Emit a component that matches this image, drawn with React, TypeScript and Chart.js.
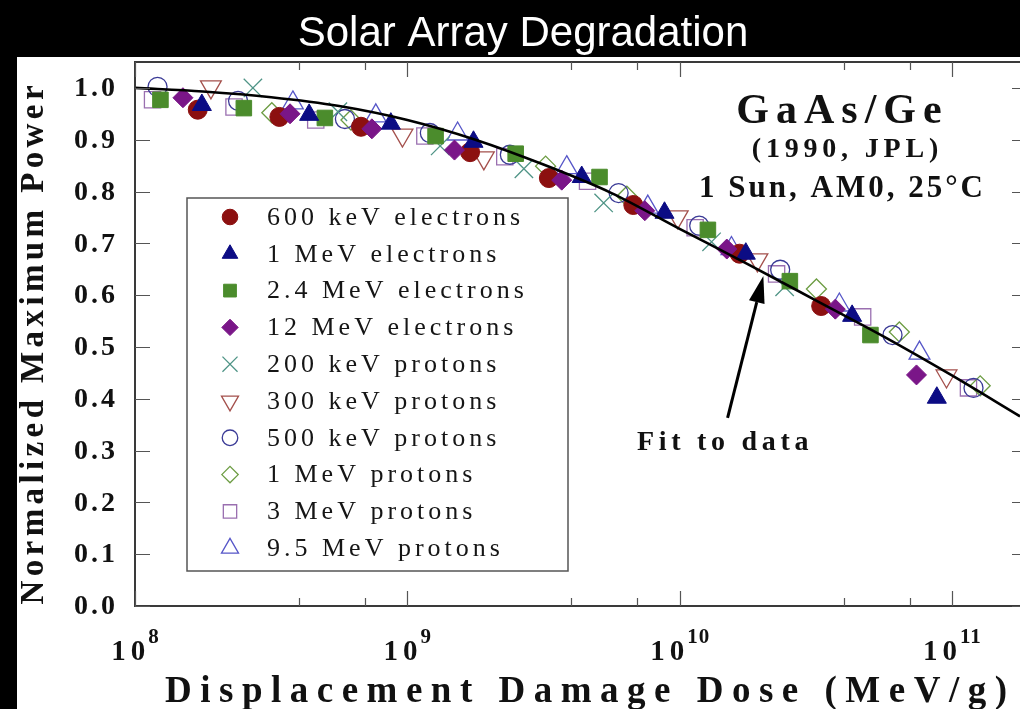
import React, { useEffect, useRef } from 'react';
import { Chart, registerables } from 'chart.js';
import { drawPoint } from 'chart.js/helpers';

Chart.register(...registerables);

// Displacement damage dose (MeV/g) and normalized maximum power, per particle
const e600keVDose = [1.70e8, 3.39e8, 6.76e8, 1.70e9, 3.31e9, 6.76e9, 1.66e10, 3.31e10];
const e600keVPower = [0.958, 0.944, 0.925, 0.876, 0.826, 0.774, 0.680, 0.579];

const e1MeVDose = [1.76e8, 4.36e8, 8.7e8, 1.75e9, 4.37e9, 8.8e9, 1.75e10, 4.3e10, 8.8e10];
const e1MeVPower = [0.967, 0.948, 0.931, 0.896, 0.828, 0.759, 0.680, 0.560, 0.402];

const e2p4MeVDose = [1.24e8, 2.51e8, 4.98e8, 1.27e9, 2.50e9, 5.08e9, 1.27e10, 2.54e10, 5.02e10];
const e2p4MeVPower = [0.977, 0.961, 0.942, 0.907, 0.873, 0.828, 0.726, 0.627, 0.523];

const e12MeVDose = [1.50e8, 3.71e8, 7.41e8, 1.49e9, 3.69e9, 7.45e9, 1.49e10, 3.73e10, 7.41e10];
const e12MeVPower = [0.981, 0.950, 0.921, 0.880, 0.822, 0.763, 0.689, 0.573, 0.446];

const p200keVDose = [2.71e8, 5.56e8, 1.32e9, 2.68e9, 5.26e9, 1.31e10, 2.43e10];
const p200keVPower = [1.000, 0.954, 0.888, 0.844, 0.778, 0.703, 0.616];

const p300keVDose = [1.90e8, 9.6e8, 1.91e9, 9.84e9, 1.93e10, 9.55e10];
const p300keVPower = [1.002, 0.909, 0.865, 0.751, 0.668, 0.444];

const p500keVDose = [1.21e8, 2.39e8, 5.9e8, 1.21e9, 2.38e9, 5.97e9, 1.18e10, 2.34e10, 6.05e10, 1.20e11];
const p500keVPower = [1.002, 0.975, 0.940, 0.913, 0.871, 0.797, 0.734, 0.649, 0.523, 0.421];

const p1MeVDose = [3.18e8, 6.21e8, 3.22e9, 6.40e9, 3.18e10, 6.41e10, 1.27e11];
const p1MeVPower = [0.952, 0.938, 0.849, 0.791, 0.612, 0.529, 0.425];

const p3MeVDose = [1.16e8, 2.31e8, 4.61e8, 1.16e9, 2.28e9, 4.59e9, 1.14e10, 2.27e10, 4.70e10, 1.15e11];
const p3MeVPower = [0.977, 0.963, 0.938, 0.907, 0.867, 0.820, 0.730, 0.641, 0.558, 0.421];

const p9p5MeVDose = [3.80e8, 7.66e8, 1.53e9, 3.85e9, 7.64e9, 1.55e10, 3.86e10, 7.60e10];
const p9p5MeVPower = [0.971, 0.946, 0.911, 0.846, 0.770, 0.690, 0.581, 0.488];

// Characteristic degradation curve
const fitDose = [1e8, 1.778e8, 3.162e8, 5.623e8, 1e9, 1.778e9, 3.162e9, 5.623e9, 1e10, 1.778e10, 3.162e10, 5.623e10, 1e11, 1.778e11];
const fitPower = [1.000, 0.993, 0.982, 0.965, 0.938, 0.900, 0.852, 0.797, 0.728, 0.660, 0.590, 0.520, 0.445, 0.366];

const seriesLabels = [
  '600 keV electrons',
  '1 MeV electrons',
  '2.4 MeV electrons',
  '12 MeV electrons',
  '200 keV protons',
  '300 keV protons',
  '500 keV protons',
  '1 MeV protons',
  '3 MeV protons',
  '9.5 MeV protons',
];
const seriesDose = [e600keVDose, e1MeVDose, e2p4MeVDose, e12MeVDose, p200keVDose, p300keVDose, p500keVDose, p1MeVDose, p3MeVDose, p9p5MeVDose];
const seriesPower = [e600keVPower, e1MeVPower, e2p4MeVPower, e12MeVPower, p200keVPower, p300keVPower, p500keVPower, p1MeVPower, p3MeVPower, p9p5MeVPower];

// Axis extents and tick values
const doseMin = 1e8;
const doseMax = 1.778e11;
const powerMin = 0;
const powerMax = 1.05;
const doseDecades = [1e8, 1e9, 1e10, 1e11];
const doseMinorSteps = [2, 3, 4, 5, 6, 7, 8, 9];
const powerTicks = [0, 0.1, 0.2, 0.3, 0.4, 0.5, 0.6, 0.7, 0.8, 0.9, 1.0];

const chartTitle = 'Solar Array Degradation';
const xTitle = 'Displacement Damage Dose (MeV/g)';
const yTitle = 'Normalized Maximum Power';
const cellLines = ['GaAs/Ge', '(1990, JPL)', '1 Sun, AM0, 25°C'];
const fitNote = 'Fit to data';

const CLEAR = 'rgba(0,0,0,0)';
const markerStyles = [
  { style: 'circle', rot: 0, r: 9.5, fill: '#8c1010', stroke: '#8c1010', bw: 1, order: 4 },
  { style: 'triangle', rot: 0, r: 11, fill: '#0c0c84', stroke: '#0c0c84', bw: 1, order: 1 },
  { style: 'rect', rot: 0, r: 11, fill: '#4b8c2c', stroke: '#4b8c2c', bw: 1, order: 3 },
  { style: 'rectRot', rot: 0, r: 10, fill: '#7a1688', stroke: '#7a1688', bw: 1, order: 2 },
  { style: 'crossRot', rot: 0, r: 13, fill: CLEAR, stroke: '#4f9486', bw: 1.3, order: 5 },
  { style: 'triangle', rot: 180, r: 12, fill: CLEAR, stroke: '#a4504c', bw: 1.3, order: 6 },
  { style: 'circle', rot: 0, r: 9.5, fill: CLEAR, stroke: '#3a3a96', bw: 1.3, order: 7 },
  { style: 'rectRot', rot: 0, r: 10, fill: CLEAR, stroke: '#6c9c42', bw: 1.3, order: 8 },
  { style: 'rect', rot: 0, r: 11.5, fill: CLEAR, stroke: '#9a6fb0', bw: 1.3, order: 9 },
  { style: 'triangle', rot: 0, r: 12, fill: CLEAR, stroke: '#5656c8', bw: 1.3, order: 10 },
];

const SERIF = '"Liberation Serif", "Times New Roman", serif';

function spaced(ctx: CanvasRenderingContext2D, text: string, x: number, y: number, spacing: number, align: 'left' | 'center' | 'right') {
  ctx.save();
  (ctx as any).letterSpacing = `${spacing}px`;
  ctx.textAlign = 'left';
  const w = ctx.measureText(text).width - spacing;
  const x0 = align === 'center' ? x - w / 2 : align === 'right' ? x - w : x;
  ctx.fillText(text, x0, y);
  ctx.restore();
  return w;
}

const isDecade = (v: number) => Math.abs(Math.log10(v) - Math.round(Math.log10(v))) < 1e-9;

const framePlugin = {
  id: 'frame',
  beforeDraw(chart: any) {
    const { ctx, width, height } = chart;
    ctx.save();
    ctx.fillStyle = '#000';
    ctx.fillRect(0, 0, width, height);
    ctx.fillStyle = '#fff';
    ctx.fillRect(17, 57, width - 17, height - 57);
    ctx.fillStyle = '#fff';
    ctx.font = '42px "Liberation Sans", Arial, sans-serif';
    ctx.textAlign = 'center';
    ctx.textBaseline = 'alphabetic';
    ctx.fillText(chartTitle, 523, 46);
    ctx.restore();
  },
  afterDraw(chart: any) {
    const { ctx, chartArea: ca } = chart;
    const xs = chart.scales.x;
    const ys = chart.scales.y;
    ctx.save();

    // frame lines
    ctx.strokeStyle = '#3a3a3a';
    ctx.lineWidth = 2;
    ctx.beginPath();
    ctx.moveTo(ca.right, ca.top);
    ctx.lineTo(ca.left, ca.top);
    ctx.lineTo(ca.left, ca.bottom);
    ctx.lineTo(ca.right, ca.bottom);
    ctx.stroke();

    // inward ticks
    ctx.strokeStyle = '#555';
    ctx.lineWidth = 1.2;
    ctx.beginPath();
    xs.ticks.forEach((t: any) => {
      const v = t.value;
      const sig = v / Math.pow(10, Math.floor(Math.log10(v) + 1e-9));
      if (Math.abs(sig - Math.round(sig)) > 1e-6) return;
      const px = Math.round(xs.getPixelForValue(v)) + 0.5;
      const len = isDecade(v) ? 15 : 8;
      ctx.moveTo(px, ca.bottom);
      ctx.lineTo(px, ca.bottom - len);
      ctx.moveTo(px, ca.top);
      ctx.lineTo(px, ca.top + len);
    });
    ys.ticks.forEach((t: any) => {
      const py = Math.round(ys.getPixelForValue(t.value)) + 0.5;
      ctx.moveTo(ca.left, py);
      ctx.lineTo(ca.left + 15, py);
      ctx.moveTo(ca.right, py);
      ctx.lineTo(ca.right - 8, py);
    });
    ctx.stroke();

    // y tick labels
    ctx.fillStyle = '#111';
    ctx.textBaseline = 'middle';
    ctx.font = `bold 28px ${SERIF}`;
    ys.ticks.forEach((t: any) => {
      const py = ys.getPixelForValue(t.value);
      spaced(ctx, t.value.toFixed(1), ca.left - 20, py + 1, 3, 'right');
    });

    // x tick labels: 10 with raised exponent
    ctx.textBaseline = 'alphabetic';
    xs.ticks.forEach((t: any) => {
      if (!isDecade(t.value)) return;
      const px = xs.getPixelForValue(t.value);
      const exp = String(Math.round(Math.log10(t.value)));
      ctx.font = `bold 29px ${SERIF}`;
      (ctx as any).letterSpacing = '5px';
      const wBase = ctx.measureText('10').width - 5;
      ctx.font = `bold 21px ${SERIF}`;
      (ctx as any).letterSpacing = '1px';
      const wExp = ctx.measureText(exp).width - 1;
      (ctx as any).letterSpacing = '0px';
      const start = px - (wBase + 3 + wExp) / 2;
      ctx.font = `bold 29px ${SERIF}`;
      spaced(ctx, '10', start, ca.bottom + 54, 5, 'left');
      ctx.font = `bold 21px ${SERIF}`;
      spaced(ctx, exp, start + wBase + 3, ca.bottom + 37, 1, 'left');
    });

    // axis titles
    ctx.font = `bold 37px ${SERIF}`;
    spaced(ctx, xTitle, 586, 702, 8.5, 'center');
    ctx.save();
    ctx.translate(43, 345);
    ctx.rotate(-Math.PI / 2);
    ctx.font = `bold 33px ${SERIF}`;
    spaced(ctx, yTitle, 0, 0, 4.4, 'center');
    ctx.restore();

    // cell description
    ctx.font = `bold 42px ${SERIF}`;
    spaced(ctx, cellLines[0], 839, 123, 7, 'center');
    ctx.font = `bold 28px ${SERIF}`;
    spaced(ctx, cellLines[1], 845, 157, 4.8, 'center');
    ctx.font = `bold 31px ${SERIF}`;
    spaced(ctx, cellLines[2], 841, 197, 3, 'center');

    // fit note with arrow onto the curve
    ctx.font = `bold 28px ${SERIF}`;
    spaced(ctx, fitNote, 637, 450, 4.7, 'left');
    const tx = xs.getPixelForValue(2.03e10);
    const ty = ys.getPixelForValue(0.637);
    const sx = xs.getPixelForValue(1.5e10);
    const sy = ys.getPixelForValue(0.363);
    const ang = Math.atan2(ty - sy, tx - sx);
    const headLen = 27;
    const headHalf = 8;
    const bx = tx - Math.cos(ang) * headLen;
    const by = ty - Math.sin(ang) * headLen;
    ctx.strokeStyle = '#000';
    ctx.lineWidth = 3;
    ctx.beginPath();
    ctx.moveTo(sx, sy);
    ctx.lineTo(bx, by);
    ctx.stroke();
    ctx.fillStyle = '#000';
    ctx.beginPath();
    ctx.moveTo(tx, ty);
    ctx.lineTo(bx + Math.sin(ang) * headHalf, by - Math.cos(ang) * headHalf);
    ctx.lineTo(bx - Math.sin(ang) * headHalf, by + Math.cos(ang) * headHalf);
    ctx.closePath();
    ctx.fill();

    // legend box
    const lx = ca.left + 52;
    const ly = ca.top + 136;
    const lw = 381;
    const lh = 373;
    ctx.fillStyle = '#fff';
    ctx.fillRect(lx, ly, lw, lh);
    ctx.strokeStyle = '#555';
    ctx.lineWidth = 1.5;
    ctx.strokeRect(lx, ly, lw, lh);
    const entries = chart.data.datasets.filter((d: any) => !d.showLine);
    entries.forEach((d: any, i: number) => {
      const cy = ly + 19 + i * 36.8;
      ctx.save();
      ctx.fillStyle = d.pointBackgroundColor;
      ctx.strokeStyle = d.pointBorderColor;
      ctx.lineWidth = d.pointBorderWidth;
      drawPoint(ctx, { pointStyle: d.pointStyle, rotation: d.pointRotation, radius: d.pointRadius * 0.82, borderWidth: d.pointBorderWidth }, lx + 43, cy);
      ctx.restore();
      ctx.fillStyle = '#151515';
      ctx.font = `26px ${SERIF}`;
      ctx.textBaseline = 'middle';
      spaced(ctx, d.label, lx + 80, cy + 1, 4, 'left');
    });

    ctx.restore();
  },
};

export default function App() {
  const canvasRef = useRef<HTMLCanvasElement>(null);

  useEffect(() => {
    const markerSets = seriesLabels.map((label, i) => {
      const s = markerStyles[i];
      return {
        label,
        data: seriesDose[i].map((x, k) => ({ x, y: seriesPower[i][k] })),
        showLine: false,
        order: s.order,
        pointStyle: s.style,
        pointRotation: s.rot,
        pointRadius: s.r,
        pointBackgroundColor: s.fill,
        pointBorderColor: s.stroke,
        pointBorderWidth: s.bw,
      };
    });
    const fitSet = {
      label: 'Fit to data',
      data: fitDose.map((x, k) => ({ x, y: fitPower[k] })),
      showLine: true,
      order: 0,
      borderColor: '#000',
      borderWidth: 2.6,
      pointRadius: 0,
      cubicInterpolationMode: 'monotone',
    };

    const chart = new Chart(canvasRef.current as HTMLCanvasElement, {
      type: 'scatter',
      data: { datasets: [...markerSets, fitSet] as any },
      options: {
        responsive: false,
        animation: false,
        devicePixelRatio: 1,
        events: [],
        layout: { autoPadding: false, padding: { left: 135, top: 62, right: 0, bottom: 103 } },
        plugins: { legend: { display: false }, title: { display: false }, tooltip: { enabled: false } },
        scales: {
          x: {
            type: 'logarithmic',
            display: false,
            min: doseMin,
            max: doseMax,
            afterBuildTicks: (scale: any) => {
              const vals: number[] = [];
              doseDecades.forEach((d) => {
                vals.push(d);
                doseMinorSteps.forEach((m) => {
                  if (d * m <= doseMax) vals.push(d * m);
                });
              });
              scale.ticks = vals.map((value) => ({ value }));
            },
          },
          y: {
            type: 'linear',
            display: false,
            min: powerMin,
            max: powerMax,
            afterBuildTicks: (scale: any) => {
              scale.ticks = powerTicks.map((value) => ({ value }));
            },
          },
        },
      } as any,
      plugins: [framePlugin],
    });
    return () => chart.destroy();
  }, []);

  return (
    <div style={{ position: 'fixed', left: 0, top: 0, width: 1020, height: 709, background: '#000', overflow: 'hidden' }}>
      <canvas ref={canvasRef} width={1020} height={709} style={{ display: 'block', width: 1020, height: 709 }} />
    </div>
  );
}
